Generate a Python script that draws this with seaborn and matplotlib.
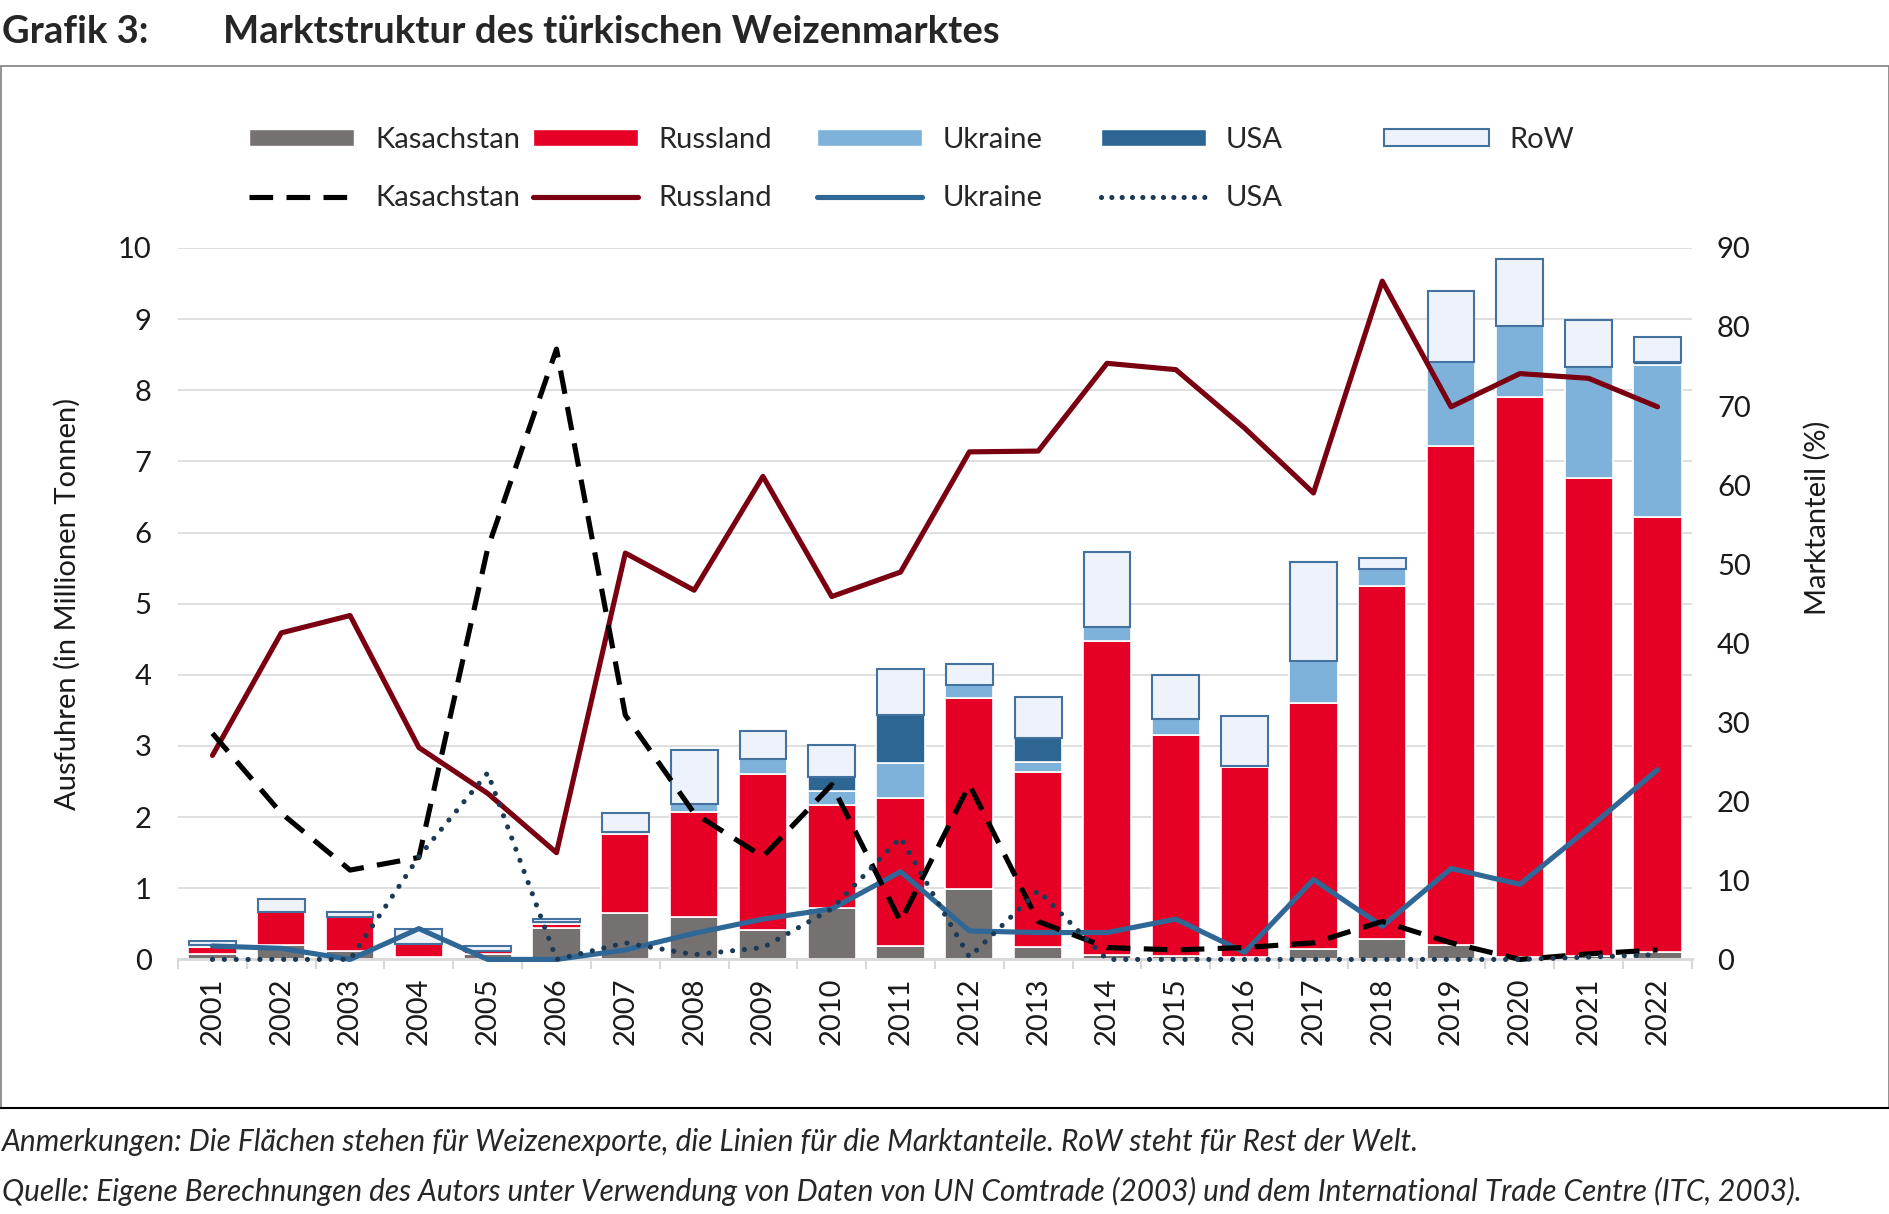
import numpy as np
import matplotlib
matplotlib.use('Agg')
import matplotlib.pyplot as plt
import seaborn as sns
from matplotlib.lines import Line2D
from matplotlib.patches import Patch, Rectangle

# Jahre
YEARS = [str(y) for y in range(2001, 2023)]

# Weizenexporte in die Tuerkei (Mio. t)
KAZ_EXP = [0.08, 0.20, 0.12, 0.04, 0.07, 0.44, 0.65, 0.59, 0.42, 0.72, 0.19,
           0.99, 0.18, 0.06, 0.05, 0.03, 0.15, 0.29, 0.20, 0.03, 0.05, 0.10]
RUS_EXP = [0.10, 0.46, 0.47, 0.17, 0.05, 0.06, 1.11, 1.48, 2.19, 1.45, 2.08,
           2.69, 2.46, 4.41, 3.11, 2.67, 3.45, 4.96, 7.02, 7.88, 6.72, 6.12]
UKR_EXP = [0.02, 0.00, 0.01, 0.00, 0.00, 0.02, 0.03, 0.12, 0.21, 0.20, 0.49,
           0.17, 0.14, 0.20, 0.22, 0.02, 0.60, 0.24, 1.18, 0.99, 1.55, 2.13]
USA_EXP = [0.00, 0.00, 0.00, 0.00, 0.00, 0.00, 0.00, 0.00, 0.00, 0.20, 0.68,
           0.00, 0.33, 0.00, 0.00, 0.00, 0.00, 0.00, 0.00, 0.00, 0.00, 0.04]
ROW_EXP = [0.06, 0.19, 0.06, 0.22, 0.07, 0.05, 0.27, 0.76, 0.39, 0.45, 0.64,
           0.30, 0.58, 1.06, 0.62, 0.70, 1.38, 0.15, 1.00, 0.94, 0.67, 0.36]

# Marktanteile (%)
KAZ_SHARE = [28.6, 18.5, 11.3, 12.9, 52.0, 77.2, 30.9, 18.5, 13.0, 22.1, 4.8,
             22.1, 4.8, 1.5, 1.2, 1.5, 2.1, 4.8, 2.1, 0.0, 0.7, 1.2]
RUS_SHARE = [25.8, 41.3, 43.5, 26.8, 21.0, 13.5, 51.4, 46.7, 61.1, 45.9, 49.0,
             64.2, 64.3, 75.4, 74.6, 67.2, 59.0, 85.8, 69.9, 74.1, 73.5, 69.9]
UKR_SHARE = [1.7, 1.4, 0.0, 3.9, 0.0, 0.0, 1.2, 3.3, 5.1, 6.4, 11.1,
             3.6, 3.4, 3.4, 5.1, 0.9, 10.1, 4.2, 11.5, 9.5, 16.6, 24.0]
USA_SHARE = [0.0, 0.0, 0.0, 13.0, 23.6, 0.0, 2.1, 0.6, 1.5, 6.4, 15.4,
             0.3, 8.7, 0.0, 0.0, 0.0, 0.0, 0.0, 0.0, 0.0, 0.3, 0.6]

C_KAZ = '#767171'
C_RUS = '#e60026'
C_UKR = '#7fb2da'
C_USA = '#2e6693'
C_ROW = '#eef3fb'
C_ROW_EDGE = '#4472a0'
L_RUS = '#7a0011'
L_UKR = '#2f6897'
L_KAZ = '#000000'
L_USA = '#1c3a56'
GRID = '#d9d9d9'

sns.set_theme(style='white')
plt.rcParams['font.family'] = ['Lato', 'DejaVu Sans']
FS = 21
FS_LEG = 21

fig = plt.figure(figsize=(18.9, 12.14), dpi=100)
ax = fig.add_axes([0.0942, 0.2097, 0.801, 0.5861])
ax2 = ax.twinx()

x = np.arange(len(YEARS))
bottom = np.zeros(len(YEARS))
for vals, col in [(KAZ_EXP, C_KAZ), (RUS_EXP, C_RUS), (UKR_EXP, C_UKR), (USA_EXP, C_USA)]:
    ax.bar(x, vals, width=0.7, bottom=bottom, color=col, edgecolor='white', linewidth=1.2, zorder=2)
    bottom += np.array(vals)
ax.bar(x, ROW_EXP, width=0.68, bottom=bottom, color=C_ROW, edgecolor=C_ROW_EDGE, linewidth=1.5, zorder=2)

# Linien: Marktanteile
lw = 3.7
KAZ_DASH = (0, (4.6, 2.6))
USA_DOT = (0, (0.01, 2.3))
sns.lineplot(x=x, y=RUS_SHARE, ax=ax2, color=L_RUS, lw=lw, clip_on=False)
sns.lineplot(x=x, y=UKR_SHARE, ax=ax2, color=L_UKR, lw=lw, clip_on=False)
sns.lineplot(x=x, y=KAZ_SHARE, ax=ax2, color=L_KAZ, lw=lw, linestyle=KAZ_DASH, clip_on=False)
sns.lineplot(x=x, y=USA_SHARE, ax=ax2, color=L_USA, lw=lw, linestyle=USA_DOT,
             dash_capstyle='round', clip_on=False)

ax.set_xlim(-0.5, len(YEARS) - 0.5)
ax2.set_xlim(-0.5, len(YEARS) - 0.5)
ax.set_ylim(0, 10)
ax2.set_ylim(0, 90)
ax.set_yticks(range(0, 11))
ax2.set_yticks(range(0, 91, 10))
ax.set_xticks(x)
ax.set_xticklabels(YEARS, rotation=90, fontsize=FS)
ax.set_xticks(np.arange(-0.5, len(YEARS)), minor=True)
ax.tick_params(axis='x', which='major', length=0, pad=13, colors='#1a1a1a')
ax.tick_params(axis='x', which='minor', length=7, width=1.5, color=GRID, bottom=True)
ax.tick_params(axis='y', length=0, pad=19, labelsize=FS, colors='#1a1a1a')
ax2.tick_params(axis='y', length=0, pad=18, labelsize=FS, colors='#1a1a1a')

ax.yaxis.grid(True, color=GRID, lw=1.2)
ax.set_axisbelow(True)
for sp in ['top', 'left', 'right']:
    ax.spines[sp].set_visible(False)
    ax2.spines[sp].set_visible(False)
ax2.spines['bottom'].set_visible(False)
ax.spines['bottom'].set_color(GRID)
ax.spines['bottom'].set_linewidth(2)

ax.set_ylabel('Ausfuhren (in Millionen Tonnen)', fontsize=FS, color='#1a1a1a')
ax.yaxis.set_label_coords(-0.064, 0.5)
ax2.set_ylabel('Marktanteil (%)', fontsize=FS, color='#1a1a1a', rotation=90)
ax2.yaxis.set_label_coords(1.074, 0.62)

# Legende: fuenf Spalten mit festen Abstaenden
cols = [
    ([Patch(facecolor=C_KAZ), Line2D([], [], color=L_KAZ, lw=lw, linestyle=KAZ_DASH)],
     ['Kasachstan', 'Kasachstan']),
    ([Patch(facecolor=C_RUS), Line2D([], [], color=L_RUS, lw=lw)], ['Russland', 'Russland']),
    ([Patch(facecolor=C_UKR), Line2D([], [], color=L_UKR, lw=lw)], ['Ukraine', 'Ukraine']),
    ([Patch(facecolor=C_USA), Line2D([], [], color=L_USA, lw=lw, linestyle=(0, (0.01, 2.0)),
                                      dash_capstyle='round')], ['USA', 'USA']),
    ([Patch(facecolor=C_ROW, edgecolor=C_ROW_EDGE, lw=1.5)], ['RoW']),
]
col_x = [0.132, 0.2819, 0.4324, 0.5823, 0.7322]
for (handles, labels), cx in zip(cols, col_x):
    fig.legend(handles, labels, loc='upper left', bbox_to_anchor=(cx, 0.8955),
               frameon=False, borderpad=0, borderaxespad=0, handlelength=3.6,
               handletextpad=0.7, handleheight=0.5, labelspacing=1.1, fontsize=FS_LEG)

# Rahmen
fig.patches.append(Rectangle((0.0003, 0.0873), 0.9992, 0.8583, transform=fig.transFigure,
                             fill=False, edgecolor='#7f7f7f', lw=1.2))
fig.lines.append(Line2D([0, 1], [0.0873, 0.0873], transform=fig.transFigure, color='black', lw=1.5))

fig.text(0.001, 1 - 43 / 1214, 'Grafik 3:', fontsize=27.5, fontweight='bold', va='baseline')
fig.text(0.118, 1 - 43 / 1214, 'Marktstruktur des türkischen Weizenmarktes', fontsize=27.5,
         fontweight='bold', va='baseline')
fig.text(0.001, 0.052, 'Anmerkungen: Die Flächen stehen für Weizenexporte, die Linien für die '
         'Marktanteile. RoW steht für Rest der Welt.', fontsize=21.5, style='italic', va='baseline')
fig.text(0.001, 0.011, 'Quelle: Eigene Berechnungen des Autors unter Verwendung von Daten von UN '
         'Comtrade (2003) und dem International Trade Centre (ITC, 2003).', fontsize=21.4,
         style='italic', va='baseline')

fig.savefig('out.png', dpi=100, facecolor='white')
